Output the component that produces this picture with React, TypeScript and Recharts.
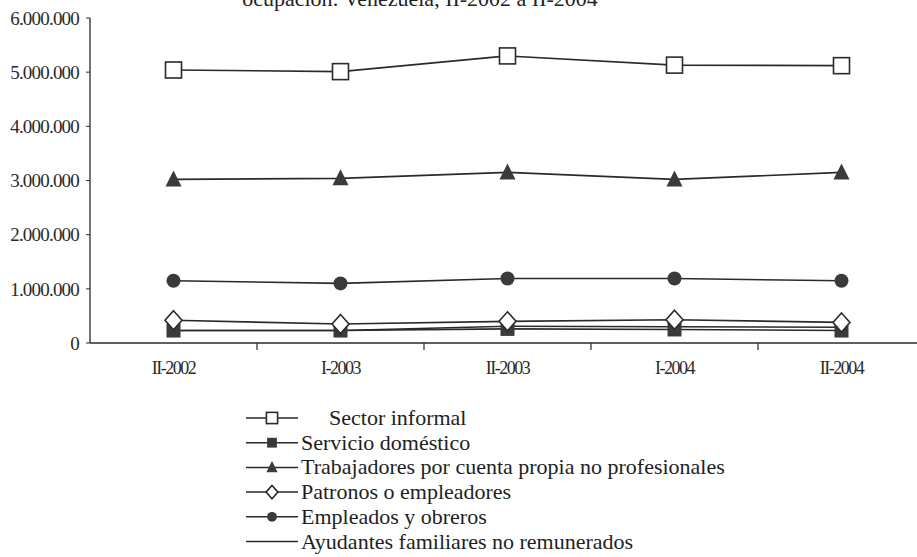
import { LineChart, Line, XAxis, YAxis } from 'recharts';

const CATEGORIES = ['II-2002', 'I-2003', 'II-2003', 'I-2004', 'II-2004'];

const SECTOR_INFORMAL = [5040000, 5010000, 5300000, 5130000, 5120000];
const SERVICIO_DOMESTICO = [230000, 230000, 260000, 250000, 230000];
const TRABAJADORES_CP = [3020000, 3040000, 3150000, 3020000, 3150000];
const PATRONOS = [420000, 350000, 400000, 430000, 380000];
const EMPLEADOS = [1150000, 1100000, 1190000, 1190000, 1150000];
const AYUDANTES = [230000, 230000, 310000, 300000, 290000];

const Y_TICKS = [0, 1000000, 2000000, 3000000, 4000000, 5000000, 6000000];
const X_TICKS = [0, 0.5, 1, 1.5, 2, 2.5, 3, 3.5, 4];

const TITLE = 'ocupación: Venezuela, II-2002 a II-2004';

type Shape = 'openSquare' | 'filledSquare' | 'triangle' | 'diamond' | 'circle' | 'none';

const SERIES: { key: string; name: string; shape: Shape }[] = [
  { key: 'informal', name: 'Sector informal', shape: 'openSquare' },
  { key: 'domestico', name: 'Servicio doméstico', shape: 'filledSquare' },
  { key: 'cuentaPropia', name: 'Trabajadores por cuenta propia no profesionales', shape: 'triangle' },
  { key: 'patronos', name: 'Patronos o empleadores', shape: 'diamond' },
  { key: 'empleados', name: 'Empleados y obreros', shape: 'circle' },
  { key: 'ayudantes', name: 'Ayudantes familiares no remunerados', shape: 'none' },
];

const data = CATEGORIES.map((cat, i) => ({
  idx: i,
  cat,
  informal: SECTOR_INFORMAL[i],
  domestico: SERVICIO_DOMESTICO[i],
  cuentaPropia: TRABAJADORES_CP[i],
  patronos: PATRONOS[i],
  empleados: EMPLEADOS[i],
  ayudantes: AYUDANTES[i],
}));

const INK = '#2a2a2a';
const FILL = '#3a3a3a';
const SERIF = '"Liberation Serif", "Times New Roman", serif';

function Marker({ shape, cx, cy, s = 1 }: { shape: Shape; cx: number; cy: number; s?: number }) {
  if (shape === 'openSquare')
    return <rect x={cx - 8 * s} y={cy - 8 * s} width={16 * s} height={16 * s} fill="#fff" stroke={INK} strokeWidth={1.6} />;
  if (shape === 'filledSquare')
    return <rect x={cx - 7 * s} y={cy - 7 * s} width={14 * s} height={14 * s} fill={FILL} />;
  if (shape === 'triangle')
    return <polygon points={`${cx},${cy - 9 * s} ${cx - 8 * s},${cy + 7 * s} ${cx + 8 * s},${cy + 7 * s}`} fill={FILL} />;
  if (shape === 'diamond')
    return (
      <polygon
        points={`${cx},${cy - 9.5 * s} ${cx + 8.5 * s},${cy} ${cx},${cy + 9.5 * s} ${cx - 8.5 * s},${cy}`}
        fill="#fff"
        stroke={INK}
        strokeWidth={1.6}
      />
    );
  if (shape === 'circle') return <circle cx={cx} cy={cy} r={7 * s} fill={FILL} />;
  return null;
}

const fmt = (v: number) => String(v).replace(/\B(?=(\d{3})+(?!\d))/g, '.');

function XTick(props: any) {
  const { x, y, payload } = props;
  const v = payload.value as number;
  if (!Number.isInteger(v)) {
    return <line x1={x} x2={x} y1={y} y2={y + 7} stroke={INK} strokeWidth={1.2} />;
  }
  return (
    <text x={x} y={y + 31} textAnchor="middle" fontFamily={SERIF} fontSize={18} letterSpacing={-1.5} fill={INK}>
      {CATEGORIES[v]}
    </text>
  );
}

function Legend() {
  const rowH = 24.7;
  return (
    <svg width={917} height={557} style={{ position: 'absolute', left: 0, top: 0 }}>
      {SERIES.map((s, i) => {
        const cy = 418 + i * rowH;
        return (
          <g key={s.key}>
            <line x1={246} x2={298} y1={cy} y2={cy} stroke={INK} strokeWidth={1.5} />
            <Marker shape={s.shape} cx={272} cy={cy} s={0.7} />
            <text x={i === 0 ? 329 : 301} y={cy + 7} fontFamily={SERIF} fontSize={22} fill="#1e1e1e">
              {s.name}
            </text>
          </g>
        );
      })}
    </svg>
  );
}

export default function App() {
  return (
    <div
      style={{
        position: 'absolute',
        left: 0,
        top: 0,
        width: 917,
        height: 557,
        overflow: 'hidden',
        background: '#fff',
      }}
    >
      <LineChart width={930} height={557} data={data} margin={{ top: 18, right: 5, bottom: 184, left: 0 }}>
        <XAxis
          dataKey="idx"
          type="number"
          domain={[-0.5, 4.5]}
          ticks={X_TICKS}
          interval={0}
          tick={<XTick />}
          tickLine={false}
          tickSize={0}
          tickMargin={0}
          height={30}
          axisLine={{ stroke: INK, strokeWidth: 1.3 }}
        />
        <YAxis
          type="number"
          domain={[0, 6000000]}
          ticks={Y_TICKS}
          interval={0}
          width={90}
          tickSize={4}
          tickMargin={7}
          tickFormatter={fmt}
          tick={{ fontFamily: SERIF, fontSize: 19, letterSpacing: -0.8, fill: INK }}
          tickLine={{ stroke: INK }}
          axisLine={{ stroke: INK, strokeWidth: 1.3 }}
        />
        {[SERIES[5], SERIES[1], SERIES[3], SERIES[4], SERIES[2], SERIES[0]].map((s) => (
          <Line
            key={s.key}
            dataKey={s.key}
            name={s.name}
            stroke={INK}
            strokeWidth={1.6}
            isAnimationActive={false}
            dot={(p: any) => <Marker key={`${s.key}-${p.index}`} shape={s.shape} cx={p.cx} cy={p.cy} />}
            activeDot={false}
          />
        ))}
      </LineChart>
      <div
        style={{
          position: 'absolute',
          left: 0,
          top: -14,
          width: 840,
          textAlign: 'center',
          fontFamily: SERIF,
          fontSize: 22,
          color: '#222',
          whiteSpace: 'nowrap',
        }}
      >
        {TITLE}
      </div>
      <Legend />
    </div>
  );
}
